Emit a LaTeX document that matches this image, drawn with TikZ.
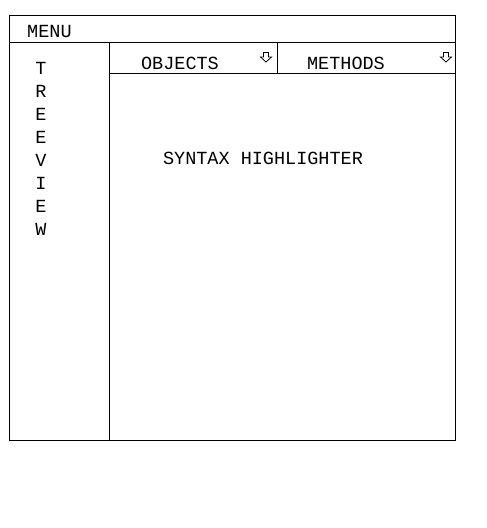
\documentclass[tikz,border=0pt]{standalone}
\usepackage{fontspec}
\newfontfamily\lcd{Liberation Mono}
\begin{document}
\begin{tikzpicture}[x=1pt,y=-1pt,
  frame/.style={draw=black,line width=1pt},
  lbl/.style={font=\lcd\fontsize{18.5}{18.5}\selectfont,inner sep=0pt,text=black},
  dnarrow/.style={draw=black,line width=0.8pt,fill=white,line join=miter}]
\useasboundingbox (0,0) rectangle (487,528);
% outer frame and dividers
\coordinate (tl) at (9,15);
\coordinate (br) at (455,440);
\draw[frame] (tl) rectangle (br);
\draw[frame] (9,42) -- (455,42);
\draw[frame] (109,42) -- (109,440);
\draw[frame] (109,73) -- (455,73);
\draw[frame] (277,42) -- (277,73);
% labels
\node[lbl,anchor=west] (menu) at (27,31) {MENU};
\node[lbl] (objects) at (180,63) {OBJECTS};
\node[lbl] (methods) at (346,63) {METHODS};
\node[lbl] (syntax) at (263,158) {SYNTAX HIGHLIGHTER};
\foreach \ch [count=\i] in {T,R,E,E,V,I,E,W}
  \node[lbl] (tv\i) at (41,{68+23*(\i-1)}) {\ch};
% dropdown arrows
\foreach \cx/\nm in {266/a1,446/a2}{
  \coordinate (\nm) at (\cx,57);
  \draw[dnarrow] ([xshift=-2.5pt,yshift=4.5pt]\nm) -- ([xshift=2.5pt,yshift=4.5pt]\nm)
     -- ([xshift=2.5pt]\nm) -- ([xshift=5.5pt]\nm) -- ([yshift=-5pt]\nm)
     -- ([xshift=-5.5pt]\nm) -- ([xshift=-2.5pt]\nm) -- cycle;
}
\end{tikzpicture}
\end{document}
